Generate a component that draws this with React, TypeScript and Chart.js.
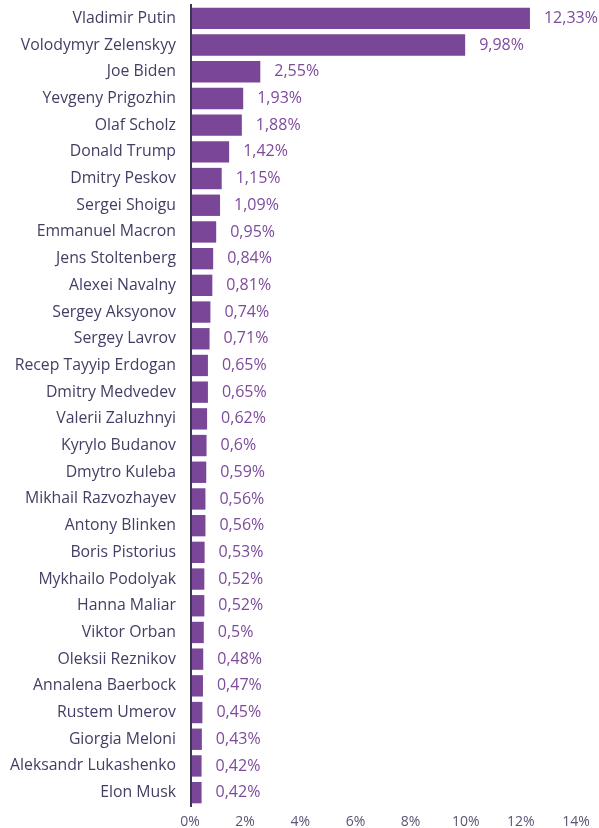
import React, { useEffect, useRef } from "react";
import { Chart, registerables } from "chart.js";

Chart.register(...registerables);

const names = [
  "Vladimir Putin",
  "Volodymyr Zelenskyy",
  "Joe Biden",
  "Yevgeny Prigozhin",
  "Olaf Scholz",
  "Donald Trump",
  "Dmitry Peskov",
  "Sergei Shoigu",
  "Emmanuel Macron",
  "Jens Stoltenberg",
  "Alexei Navalny",
  "Sergey Aksyonov",
  "Sergey Lavrov",
  "Recep Tayyip Erdogan",
  "Dmitry Medvedev",
  "Valerii Zaluzhnyi",
  "Kyrylo Budanov",
  "Dmytro Kuleba",
  "Mikhail Razvozhayev",
  "Antony Blinken",
  "Boris Pistorius",
  "Mykhailo Podolyak",
  "Hanna Maliar",
  "Viktor Orban",
  "Oleksii Reznikov",
  "Annalena Baerbock",
  "Rustem Umerov",
  "Giorgia Meloni",
  "Aleksandr Lukashenko",
  "Elon Musk",
];

const shares = [
  12.33, 9.98, 2.55, 1.93, 1.88, 1.42, 1.15, 1.09, 0.95, 0.84, 0.81, 0.74,
  0.71, 0.65, 0.65, 0.62, 0.6, 0.59, 0.56, 0.56, 0.53, 0.52, 0.52, 0.5, 0.48,
  0.47, 0.45, 0.43, 0.42, 0.42,
];

const xTicks = [0, 2, 4, 6, 8, 10, 12, 14];

const FONT = "'Open Sans', sans-serif";
const BAR = "#7a4697";
const VALUE_COLOR = "#7d4a9c";
const NAME_COLOR = "#453d64";
const TICK_COLOR = "#5c5474";
const AXIS_COLOR = "#3e3458";

const fmt = (v: number) => String(v).replace(".", ",") + "%";

const valueLabels = {
  id: "valueLabels",
  afterDatasetsDraw(chart: any) {
    const ctx = chart.ctx;
    const meta = chart.getDatasetMeta(0);
    ctx.save();
    ctx.font = `16px ${FONT}`;
    ctx.fillStyle = VALUE_COLOR;
    ctx.textAlign = "left";
    ctx.textBaseline = "middle";
    meta.data.forEach((bar: any, i: number) => {
      ctx.fillText(fmt(shares[i]), bar.x + 14, bar.y);
    });
    ctx.restore();
  },
};

const yAxisLine = {
  id: "yAxisLine",
  afterDatasetsDraw(chart: any) {
    const { ctx, chartArea } = chart;
    ctx.save();
    ctx.strokeStyle = AXIS_COLOR;
    ctx.lineWidth = 2;
    ctx.beginPath();
    ctx.moveTo(chartArea.left + 1, chartArea.top - 1);
    ctx.lineTo(chartArea.left + 1, chartArea.bottom + 1);
    ctx.stroke();
    ctx.restore();
  },
};

export default function App() {
  const ref = useRef<HTMLCanvasElement | null>(null);

  useEffect(() => {
    if (!ref.current) return;
    const chart = new Chart(ref.current, {
      type: "bar",
      data: {
        labels: names,
        datasets: [
          {
            data: shares,
            backgroundColor: BAR,
            borderWidth: 0,
            categoryPercentage: 1,
            barPercentage: 0.8,
          },
        ],
      },
      options: {
        indexAxis: "y",
        animation: false,
        responsive: true,
        maintainAspectRatio: false,
        layout: { padding: { top: 5, right: 23, bottom: 0, left: 0 } },
        plugins: {
          legend: { display: false },
          tooltip: { enabled: false },
        },
        scales: {
          x: {
            min: 0,
            max: 14,
            afterBuildTicks: (scale: any) => {
              scale.ticks = xTicks.map((v) => ({ value: v }));
            },
            afterFit: (scale: any) => {
              scale.height = 22;
            },
            grid: { display: false, drawTicks: false },
            border: { display: false },
            ticks: {
              padding: 8,
              color: TICK_COLOR,
              font: { family: FONT, size: 14 },
              callback: (v: any) => v + "%",
            },
          },
          y: {
            afterFit: (scale: any) => {
              scale.width = 190;
              scale.paddingTop = 0;
              scale.paddingBottom = 0;
            },
            grid: { display: false, drawTicks: false },
            border: { display: false },
            ticks: {
              padding: 14,
              color: NAME_COLOR,
              font: { family: FONT, size: 15.8 },
              autoSkip: false,
            },
          },
        },
      },
      plugins: [valueLabels, yAxisLine],
    });
    return () => chart.destroy();
  }, []);

  return (
    <div
      style={{
        position: "absolute",
        left: 0,
        top: 0,
        width: 599,
        height: 828,
      }}
    >
      <canvas ref={ref} />
    </div>
  );
}
